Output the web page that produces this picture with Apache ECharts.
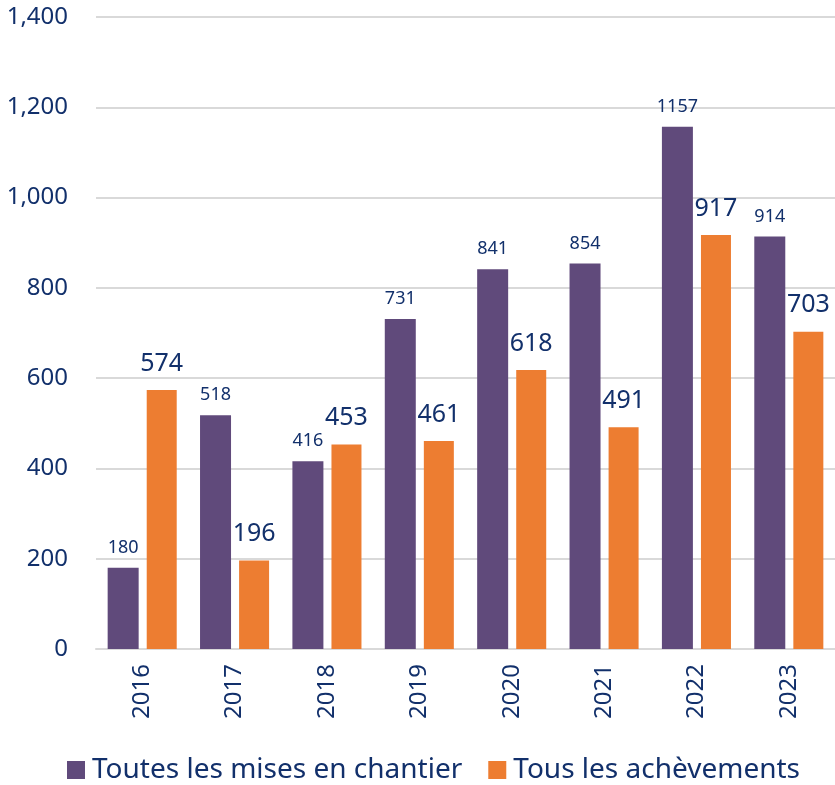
<!DOCTYPE html>
<html><head><meta charset="utf-8">
<script src="https://cdn.jsdelivr.net/npm/echarts@6/dist/echarts.min.js"></script>
<style>html,body{margin:0;padding:0;background:#fff}#c{width:835px;height:785px}</style>
</head><body><div id="c"></div>
<script>
const categories = ['2016','2017','2018','2019','2020','2021','2022','2023'];
const misesEnChantier = [180, 518, 416, 731, 841, 854, 1157, 914];
const achevements = [574, 196, 453, 461, 618, 491, 917, 703];
const seriesNames = ['Toutes les mises en chantier', 'Tous les achèvements'];
const yTicks = {min: 0, max: 1400, interval: 200};

const navy = '#12306B';
const font = '"Noto Sans", "Open Sans", "DejaVu Sans", sans-serif';
const chart = echarts.init(document.getElementById('c'));
chart.setOption({
  animation: false,
  textStyle: {fontFamily: font},
  grid: {left: 96, right: 0, top: 17, bottom: 136},
  legend: {
    top: 751, left: 62, itemWidth: 18, itemHeight: 18, itemGap: 26,
    icon: 'rect',
    textStyle: {color: navy, fontSize: 28, fontFamily: font, padding: [0, 0, 0, 2]}
  },
  xAxis: {
    type: 'category', data: categories,
    axisTick: {show: false},
    axisLine: {lineStyle: {color: '#D9D9D9', width: 2}},
    axisLabel: {rotate: 90, color: navy, fontSize: 24, margin: 15, fontFamily: font}
  },
  yAxis: {
    type: 'value', min: yTicks.min, max: yTicks.max, interval: yTicks.interval,
    axisLine: {show: false}, axisTick: {show: false},
    splitLine: {lineStyle: {color: '#D9D9D9', width: 2}},
    axisLabel: {color: navy, fontSize: 24, margin: 28, fontFamily: font,
      formatter: v => v.toLocaleString('en-US')}
  },
  series: [
    {name: seriesNames[0], type: 'bar', data: misesEnChantier, barWidth: 31, barGap: '26%',
     barCategoryGap: '24%',
     itemStyle: {color: '#604A7B'},
     label: {show: true, position: 'top', color: navy, fontSize: 18, distance: 11, fontFamily: font}},
    {name: seriesNames[1], type: 'bar', data: achevements, barWidth: 30,
     itemStyle: {color: '#ED7D31'},
     label: {show: true, position: 'top', color: navy, fontSize: 25, distance: 14, fontFamily: font}}
  ]
});
</script></body></html>
